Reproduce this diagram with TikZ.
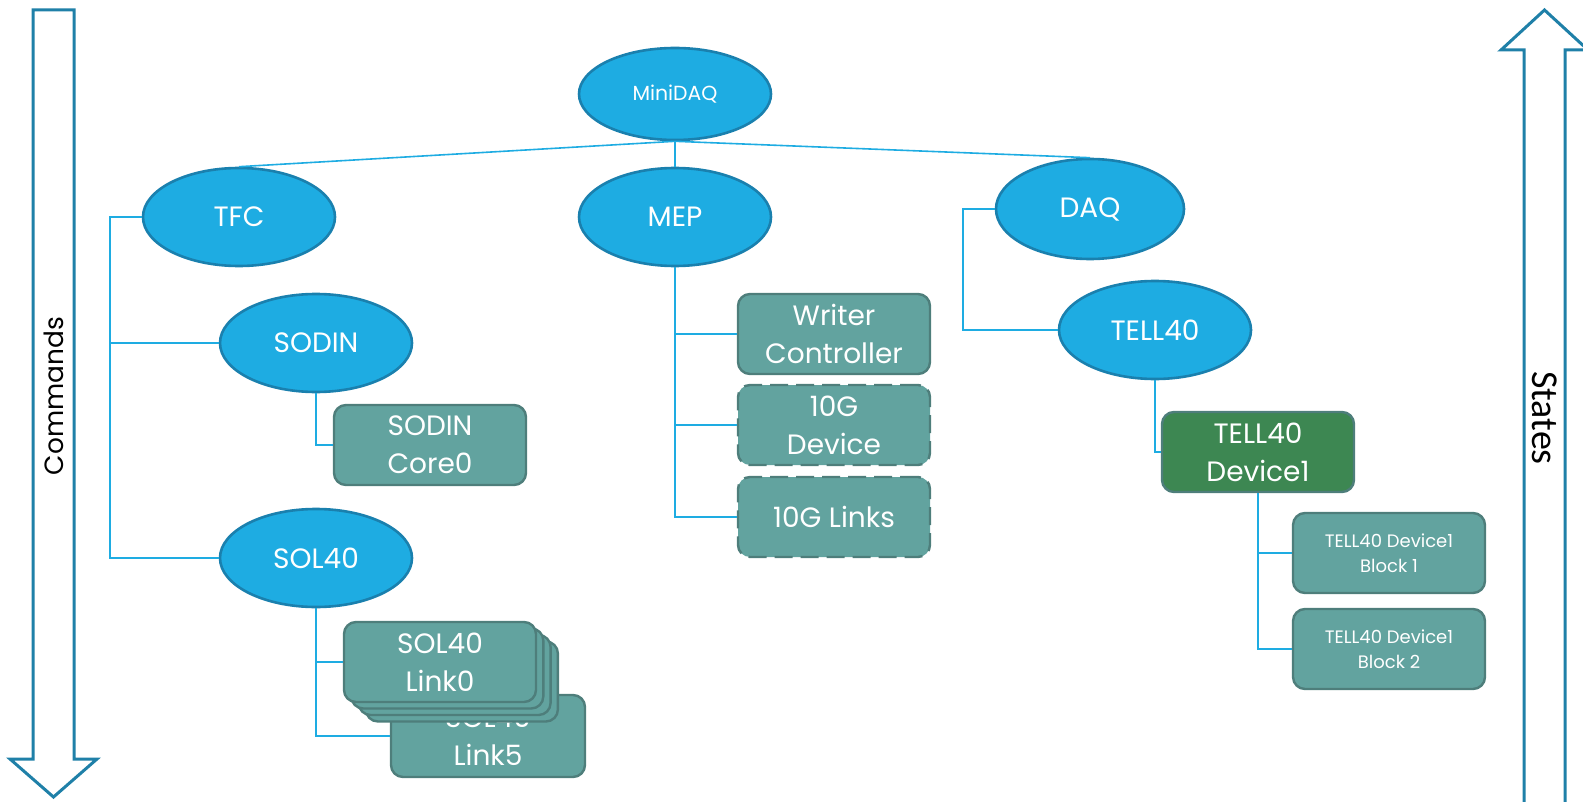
\documentclass[tikz,border=0pt]{standalone}
\usepackage{fontspec}
\setmainfont{Poppins}
\newfontfamily\statesfont{Carlito}
\usetikzlibrary{shapes.geometric}

\definecolor{unitfill}{HTML}{1EACE2}
\definecolor{unitedge}{HTML}{1A80AE}
\definecolor{devfill}{HTML}{62A39F}
\definecolor{devedge}{HTML}{4E7E7B}
\definecolor{activefill}{HTML}{3D8752}
\definecolor{arrowedge}{HTML}{1F80A8}

\tikzset{
  unit/.style={ellipse, draw=unitedge, fill=unitfill, line width=1.3pt, inner sep=0pt,
    minimum width=96pt, minimum height=49pt, text=white, font=\fontsize{14}{16}\selectfont},
  devbox/.style={rectangle, rounded corners=6pt, draw=devedge, fill=devfill, line width=1.2pt,
    minimum width=96pt, minimum height=40pt, text=white, align=center,
    font=\fontsize{14}{19}\selectfont},
  blockbox/.style={devbox, font=\fontsize{9}{12.5}\selectfont},
  optional/.style={dash pattern=on 9pt off 4pt},
  link/.style={draw=unitfill, line width=0.8pt},
  bigarrow/.style={draw=arrowedge, fill=white, line width=1.5pt, line join=miter}
}

\begin{document}
\begin{tikzpicture}[x=0.5pt,y=-0.5pt]
\useasboundingbox (0,0) rectangle (1583,802);

% commands / states arrows
\draw[bigarrow] (33,10) -- (74,10) -- (74,759) -- (97,759) -- (53.5,797) -- (10,759) -- (33,759) -- cycle;
\node[rotate=90, font=\fontsize{13.2}{16}\selectfont] (cmdtxt) at (53.5,396) {Commands};
\fill[white] (1524,50) rectangle (1565,810);
\draw[bigarrow] (1524,810) -- (1524,50) -- (1501,50) -- (1544.5,10) -- (1588,50) -- (1565,50) -- (1565,810);
\node[rotate=-90, font=\statesfont\fontsize{19}{21}\selectfont] (statestxt) at (1544.5,418) {States};

% tree
\node[unit, font=\fontsize{10.2}{12}\selectfont, minimum height=46pt] (mini) at (675,94) {MiniDAQ};
\node[unit] (tfc) at (239,217) {TFC};
\node[unit] (mep) at (675,217) {MEP};
\node[unit, minimum width=94pt, minimum height=50pt] (daq) at (1090,209) {DAQ};
\node[unit] (sodin) at (316,343) {SODIN};
\node[unit] (sol) at (316,558) {SOL40};
\node[unit] (tell) at (1155,330) {TELL40};

\node[devbox] (core0) at (430,445) {SODIN\\Core0};
\node[devbox] (writer) at (834,334) {Writer\\Controller};
\node[devbox, optional] (dev10g) at (834,425) {10G\\Device};
\node[devbox, optional] (links10g) at (834,517) {10G Links};
\node[devbox, fill=activefill] (tdev) at (1258,452) {TELL40\\Device1};
\node[blockbox] (blk1) at (1389,553) {TELL40 Device1\\Block 1};
\node[blockbox] (blk2) at (1389,649) {TELL40 Device1\\Block 2};

% sol40 link stack
\node[devbox, minimum width=97pt, minimum height=41pt] (link5) at (488,736) {SOL40\\Link5};
\foreach \k in {3,2,1}
  \node[devbox] (linkcopy\k) at ({440+7.3*\k},{662+6.5*\k}) {};
\node[devbox] (link0) at (440,662) {SOL40\\Link0};

% connectors
\draw[link] (mini.south) -- (tfc.north);
\draw[link] (mini.south) -- (daq.north);
\draw[link] (mini.south) -- (mep.north);

\coordinate (tfcbus) at (110,217);
\draw[link] (tfc.west) -- (tfcbus) |- (sol.west);
\draw[link] (tfcbus) |- (sodin.west);
\draw[link] (sodin.south) |- (core0.west);
\draw[link] (sol.south) |- (link0.west);
\draw[link] (sol.south) |- (link5.west);

\draw[link] (mep.south) |- (writer.west);
\draw[link] (mep.south) |- (dev10g.west);
\draw[link] (mep.south) |- (links10g.west);

\coordinate (daqbus) at (963,209);
\draw[link] (daq.west) -- (daqbus) |- (tell.west);
\draw[link] (tell.south) |- (tdev.west);
\draw[link] (tdev.south) |- (blk1.west);
\draw[link] (tdev.south) |- (blk2.west);
\end{tikzpicture}
\end{document}
